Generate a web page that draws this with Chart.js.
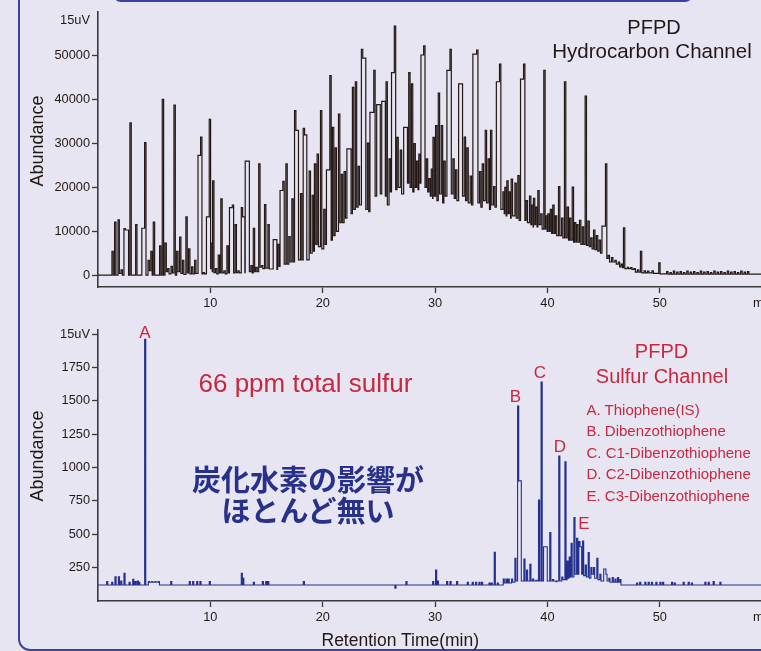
<!DOCTYPE html>
<html>
<head>
<meta charset="utf-8">
<script src="https://cdn.jsdelivr.net/npm/chart.js@4.4.1/dist/chart.umd.min.js"></script>
<style>
  html, body { margin: 0; padding: 0; }
  body {
    width: 761px; height: 651px; overflow: hidden; position: relative;
    background: #E7E5F1;
    font-family: "Liberation Sans", Arial, Helvetica, sans-serif;
  }
  canvas { position: absolute; left: 0; }
  .t { position: absolute; white-space: nowrap; line-height: 1; }
  .frame { position: absolute; left: 18px; top: -40px; width: 900px; height: 690.5px;
           border: 2.5px solid #3D41A0; border-radius: 12px; box-sizing: border-box; }
  .head { position: absolute; left: 113px; top: -40px; width: 580px; height: 42px;
          border: 2.5px solid #3D41A0; border-radius: 8px; box-sizing: border-box; }
  .dark { color: #231815; }
  .red { color: #C8283F; }
  .ctr { transform: translateX(-50%); }
  .rot { transform: translate(-50%, -50%) rotate(-90deg); font-size: 18px; color: #231815; }
  .jp { font-family: "Noto Sans CJK JP", sans-serif; font-weight: 700; font-size: 29px;
        color: #27318B; line-height: 31px; text-align: center; }
</style>
</head>
<body>
<div class="frame"></div>
<div class="head"></div>

<canvas id="hc" width="761" height="320" style="top:0"></canvas>
<canvas id="sc" width="761" height="331" style="top:320px"></canvas>

<!-- hydrocarbon channel texts -->
<div class="t dark ctr" style="left:654px; top:17px; font-size:20px;">PFPD</div>
<div class="t dark ctr" style="left:652px; top:40.5px; font-size:20.5px;">Hydrocarbon Channel</div>
<div class="t rot" style="left:37px; top:141px;">Abundance</div>
<div class="t dark" style="left:753px; top:297px; font-size:12.8px;">min</div>

<!-- sulfur channel texts -->
<div class="t rot" style="left:37px; top:456px;">Abundance</div>
<div class="t dark" style="left:753px; top:611px; font-size:12.8px;">min</div>
<div class="t dark" style="left:321.5px; top:631.5px; font-size:17.5px;">Retention Time(min)</div>
<div class="t red" style="left:198.5px; top:370px; font-size:26px;">66 ppm total sulfur</div>
<div class="t red ctr" style="left:661.5px; top:340.5px; font-size:20px;">PFPD</div>
<div class="t red ctr" style="left:662px; top:365.5px; font-size:20px;">Sulfur Channel</div>
<div class="t red" style="left:586.5px; top:401.5px; font-size:15px;">A. Thiophene(IS)</div>
<div class="t red" style="left:586.5px; top:423px; font-size:15px;">B. Dibenzothiophene</div>
<div class="t red" style="left:586.5px; top:444.5px; font-size:15px;">C. C1-Dibenzothiophene</div>
<div class="t red" style="left:586.5px; top:466px; font-size:15px;">D. C2-Dibenzothiophene</div>
<div class="t red" style="left:586.5px; top:488px; font-size:15px;">E. C3-Dibenzothiophene</div>
<div class="t red ctr" style="left:145px; top:323.5px; font-size:17px;">A</div>
<div class="t red ctr" style="left:515.5px; top:388px; font-size:17px;">B</div>
<div class="t red ctr" style="left:540px; top:364px; font-size:17px;">C</div>
<div class="t red ctr" style="left:560px; top:438px; font-size:17px;">D</div>
<div class="t red ctr" style="left:584px; top:514.5px; font-size:17px;">E</div>
<div class="t jp ctr" style="left:308px; top:463px;">炭化水素の影響が<br>ほとんど無い</div>

<script>
// ---- data (retention time in min, apex height, level the trace drops back to) ----
const xTicks = [10, 20, 30, 40, 50];

const hcYTicks = [0, 10000, 20000, 30000, 40000, 50000, 58000];
const hcTime = [
  1.24, 1.48, 1.78, 2.05, 2.31, 2.6, 2.84, 3.35, 3.9, 4.15,
  4.45, 4.7, 4.92, 5.48, 5.72, 5.96, 6.2, 6.5, 6.76, 7.0,
  7.26, 7.52, 7.82, 8.06, 8.33, 8.6, 8.9, 9.13, 9.36, 9.65,
  9.9, 10.05, 10.2, 10.45, 10.7, 10.93, 11.2, 11.47, 11.7, 11.95,
  12.2, 12.45, 12.75, 12.95, 13.1, 13.35, 13.6, 13.82, 14.05, 14.3,
  14.55, 14.82, 15.12, 15.59, 15.8, 15.98, 16.2, 16.45, 16.72, 16.98,
  17.25, 17.49, 17.72, 18.02, 18.26, 18.46, 18.79, 19.06, 19.26, 19.5,
  19.8, 20.09, 20.33, 20.63, 20.86, 21.1, 21.4, 21.65, 21.9, 22.15,
  22.4, 22.64, 22.9, 23.15, 23.44, 23.71, 23.97, 24.2, 24.54, 24.8,
  25.0, 25.25, 25.45, 25.63, 25.9, 26.12, 26.37, 26.6, 26.9, 27.2,
  27.42, 27.65, 27.89, 28.12, 28.35, 28.55, 28.74, 28.98, 29.22, 29.45,
  29.66, 29.81, 30.04, 30.28, 30.55, 30.78, 31.05, 31.32, 31.58, 31.82,
  32.09, 32.32, 32.59, 32.83, 33.12, 33.36, 33.69, 33.95, 34.19, 34.46,
  34.72, 34.93, 35.2, 35.45, 35.73, 36.03, 36.2, 36.38, 36.6, 36.77,
  37.1, 37.36, 37.6, 37.87, 38.1, 38.4, 38.6, 38.75, 38.95, 39.14,
  39.4, 39.67, 39.85, 40.03, 40.25, 40.47, 40.7, 40.98, 41.25, 41.51,
  41.75, 41.95, 42.2, 42.4, 42.6, 42.85, 43.1, 43.35, 43.6, 43.85,
  44.1, 44.35, 44.6, 44.85, 45.16, 45.4, 45.7, 46.0, 46.3, 46.55,
  46.76, 47.1, 47.4, 47.7, 48.0, 48.27, 48.6, 48.9, 49.3, 49.9,
  50.6, 50.9, 51.2, 51.5, 51.8, 52.1, 52.4, 52.7, 53.0, 53.3,
  53.6, 53.9, 54.2, 54.5, 54.8, 55.1, 55.4, 55.7, 56.0, 56.3,
  56.6, 56.9, 57.2, 57.5, 57.8
];
const hcApex = [
  5400, 12100, 12600, 1200, 10600, 10300, 34700, 11500, 10700, 30200,
  3400, 5400, 12100, 6700, 40100, 7300, 1500, 2000, 38800, 5400,
  8700, 3400, 13300, 6000, 1900, 3400, 27300, 31500, 600, 13300,
  35500, 7300, 21500, 1500, 4600, 17400, 1000, 6700, 15400, 16000,
  11500, 1000, 15400, 13300, 26000, 26000, 2200, 10700, 1800, 25400,
  2200, 16100, 11500, 8100, 8100, 7000, 19300, 21400, 25400, 8800,
  17400, 37500, 33000, 18600, 33500, 32000, 23700, 18200, 25400, 27600,
  37500, 15000, 24000, 45500, 33700, 29000, 36700, 23000, 23600, 28800,
  28800, 42800, 44100, 24800, 51500, 49500, 30100, 37100, 46700, 38900,
  38900, 39600, 39600, 44100, 26500, 46200, 56800, 31400, 28500, 33700,
  33700, 46200, 43600, 30000, 26000, 27600, 50200, 52300, 26500, 22000,
  24200, 31400, 34100, 41500, 34100, 26000, 46700, 51500, 26500, 24000,
  43600, 43600, 31500, 29000, 22600, 50400, 51300, 23600, 25400, 33000,
  26500, 33000, 20200, 44100, 48100, 19000, 20000, 21500, 19000, 21900,
  21000, 22700, 44700, 48100, 17000, 18000, 16000, 17500, 15500, 19300,
  14000, 46700, 13500, 14000, 15000, 16000, 13500, 20200, 13000, 44100,
  15500, 13000, 20100, 12000, 11500, 12500, 11000, 40800, 12300, 8500,
  10300, 9000, 8000, 11200, 25400, 4500, 4000, 3400, 3000, 2500,
  10800, 1800, 1700, 1500, 1200, 5450, 1000, 900, 1000, 2800,
  800, 600, 900, 700, 800, 600, 900, 700, 800, 600,
  900, 700, 800, 600, 900, 700, 800, 600, 900, 700,
  800, 600, 900, 700, 800
];
const hcValley = [
  0, 0, 400, 0, 10300, 0, 0, 0, 10700, 0,
  1000, 0, 0, 0, 0, 800, 300, 500, 0, 800,
  400, 200, 500, 300, 300, 400, 27300, 300, 300, 13300,
  1500, 800, 600, 300, 500, 500, 300, 500, 15400, 500,
  600, 500, 13300, 600, 26000, 800, 500, 800, 800, 1800,
  1500, 1600, 1400, 8100, 1300, 2000, 19300, 2500, 2500, 3000,
  3000, 33000, 3500, 3500, 32000, 3500, 5000, 5500, 7000, 6500,
  6000, 7000, 24000, 8000, 9000, 10000, 12000, 12000, 13000, 28800,
  14000, 15000, 15500, 16000, 49500, 15000, 14500, 37100, 18000, 38900,
  18500, 39600, 18000, 16000, 19000, 46200, 19500, 20000, 18500, 33700,
  21000, 20000, 19000, 20000, 19500, 21000, 50200, 20000, 19000, 18000,
  17500, 18000, 17000, 18500, 16500, 18000, 46700, 18500, 17500, 17000,
  43600, 18000, 17000, 16500, 16000, 50400, 16500, 15500, 17000, 16500,
  15000, 16000, 15500, 44100, 15000, 14000, 13500, 14000, 13000, 13500,
  13000, 12500, 44700, 12500, 12000, 11500, 11000, 11500, 11000, 11500,
  10500, 10500, 10000, 10000, 9500, 9500, 9000, 9000, 8500, 8500,
  8000, 8000, 7500, 7500, 7500, 7000, 7000, 6800, 6500, 6000,
  5800, 5500, 5000, 11200, 3800, 3000, 3000, 2500, 1900, 1700,
  1500, 1500, 1300, 700, 700, 500, 500, 500, 400, 300,
  250, 250, 250, 250, 250, 250, 250, 250, 250, 250,
  250, 250, 250, 250, 250, 250, 250, 250, 250, 250,
  250, 250, 250, 250, 250
];

const sYTicks = [250, 500, 750, 1000, 1250, 1500, 1750, 2000];
const sTime = [
  0.77, 1.22, 1.51, 1.81, 2.02, 2.31, 2.76, 3.09, 3.29, 3.5,
  3.62, 4.15, 4.48, 4.77, 5.07, 5.37, 6.47, 8.12, 8.42, 8.78,
  9.07, 9.9, 12.75, 12.88, 13.82, 14.62, 14.92, 15.1, 18.27, 26.42,
  27.4, 29.78, 30.04, 30.2, 31.02, 31.32, 31.91, 32.86, 33.3, 33.6,
  33.9, 34.13, 34.79, 34.99, 35.26, 35.53, 36.06, 36.3, 36.5, 36.8,
  37.1, 37.34, 37.57, 37.9, 38.13, 38.43, 38.67, 38.97, 39.2, 39.43,
  39.65, 39.88, 40.2, 40.45, 40.75, 41.0, 41.27, 41.55, 41.75, 41.93,
  42.1, 42.35, 42.59, 42.79, 42.94, 43.12, 43.36, 43.62, 43.86, 44.1,
  44.39, 44.66, 45.0, 45.2, 45.46, 45.76, 46.0, 46.23, 46.44, 47.93,
  48.2, 48.66, 48.96, 49.25, 49.64, 50.0, 50.24, 51.04, 51.28, 52.07,
  52.52, 52.8, 54.0, 54.3, 54.74, 55.34
];
const sApex = [
  145, 140, 182, 182, 150, 207, 140, 162, 145, 150,
  140, 1960, 145, 145, 145, 145, 145, 145, 145, 145,
  145, 145, 207, 170, 140, 145, 145, 145, 145, 95,
  145, 145, 232, 150, 145, 145, 145, 140, 140, 140,
  140, 140, 135, 135, 364, 135, 165, 165, 165, 165,
  320, 1460, 900, 314, 232, 274, 165, 155, 756, 1641,
  406, 406, 512, 160, 145, 1085, 180, 1043, 300, 330,
  432, 626, 469, 445, 406, 449, 270, 362, 250, 250,
  320, 200, 240, 200, 170, 175, 165, 175, 160, 135,
  140, 140, 140, 140, 140, 140, 140, 140, 135, 140,
  140, 135, 140, 140, 145, 140
];
const sValley = [
  120, 120, 120, 120, 120, 120, 120, 120, 120, 120,
  120, 120, 140, 140, 140, 120, 120, 120, 120, 120,
  120, 120, 120, 120, 120, 120, 120, 120, 120, 120,
  120, 120, 120, 120, 120, 120, 120, 120, 120, 120,
  120, 120, 120, 120, 120, 120, 135, 135, 135, 140,
  150, 900, 150, 150, 150, 150, 150, 150, 150, 150,
  406, 150, 150, 150, 150, 150, 160, 160, 170, 180,
  180, 200, 200, 406, 200, 190, 180, 170, 200, 170,
  160, 150, 240, 150, 140, 140, 140, 140, 120, 120,
  120, 120, 120, 120, 120, 120, 120, 120, 120, 120,
  120, 120, 120, 120, 120, 120
];

// ---- trace: each peak is a narrow step up to the apex, then back down ----
function trace(times, apex, valley, base0, width, tEnd) {
  const pts = [{ x: 0, y: base0 }];
  times.forEach((t, i) => {
    pts.push({ x: t, y: apex[i] });
    pts.push({ x: t + width, y: valley[i] });
  });
  pts.push({ x: tEnd, y: valley[valley.length - 1] });
  return pts;
}

const AXIS = '#3a3a3a';
const tickFont = { family: '"Liberation Sans", Arial, sans-serif', size: 12.8 };

function chartOptions(yMin, yMax, yTicks, topVal, topTickMark, xHeight, padTop) {
  return {
    responsive: false,
    animation: false,
    devicePixelRatio: 1,
    layout: { padding: { top: padTop, left: 0, right: 0, bottom: 0 } },
    plugins: { legend: { display: false }, tooltip: { enabled: false } },
    elements: { point: { radius: 0 } },
    scales: {
      x: {
        type: 'linear', min: 0, max: 59,
        afterBuildTicks: s => { s.ticks = xTicks.map(v => ({ value: v })); },
        afterFit: s => { s.height = xHeight; },
        ticks: { font: tickFont, color: '#231815', padding: 3, maxRotation: 0, autoSkip: false },
        grid: { drawOnChartArea: false, drawTicks: true, tickLength: 6, tickColor: AXIS, tickWidth: 1.3 },
        border: { color: AXIS, width: 1.6 }
      },
      y: {
        type: 'linear', min: yMin, max: yMax,
        afterBuildTicks: s => { s.ticks = yTicks.map(v => ({ value: v })); },
        afterFit: s => { s.width = 98; },
        ticks: {
          font: tickFont, color: '#231815', padding: 2, autoSkip: false,
          callback: v => (v === topVal ? '15uV' : String(v))
        },
        grid: {
          drawOnChartArea: false, drawTicks: true, tickLength: 6, tickWidth: 1.3,
          tickColor: ctx => (!topTickMark && ctx.tick && ctx.tick.value === topVal) ? 'rgba(0,0,0,0)' : AXIS
        },
        border: { color: AXIS, width: 1.6 }
      }
    }
  };
}

new Chart(document.getElementById('hc'), {
  type: 'line',
  data: {
    datasets: [{
      data: trace(hcTime, hcApex, hcValley, 0, 0.12, 59),
      borderColor: '#231815', borderWidth: 1.2, stepped: true, fill: false
    }]
  },
  options: chartOptions(-2700, 60000, hcYTicks, 58000, false, 33, 12)
});

new Chart(document.getElementById('sc'), {
  type: 'line',
  data: {
    datasets: [{
      data: trace(sTime, sApex, sValley, 120, 0.1, 59),
      borderColor: '#24308F', borderWidth: 1.1, stepped: true, fill: false
    }]
  },
  options: chartOptions(0, 2030, sYTicks, 2000, true, 50, 10)
});
</script>
</body>
</html>
